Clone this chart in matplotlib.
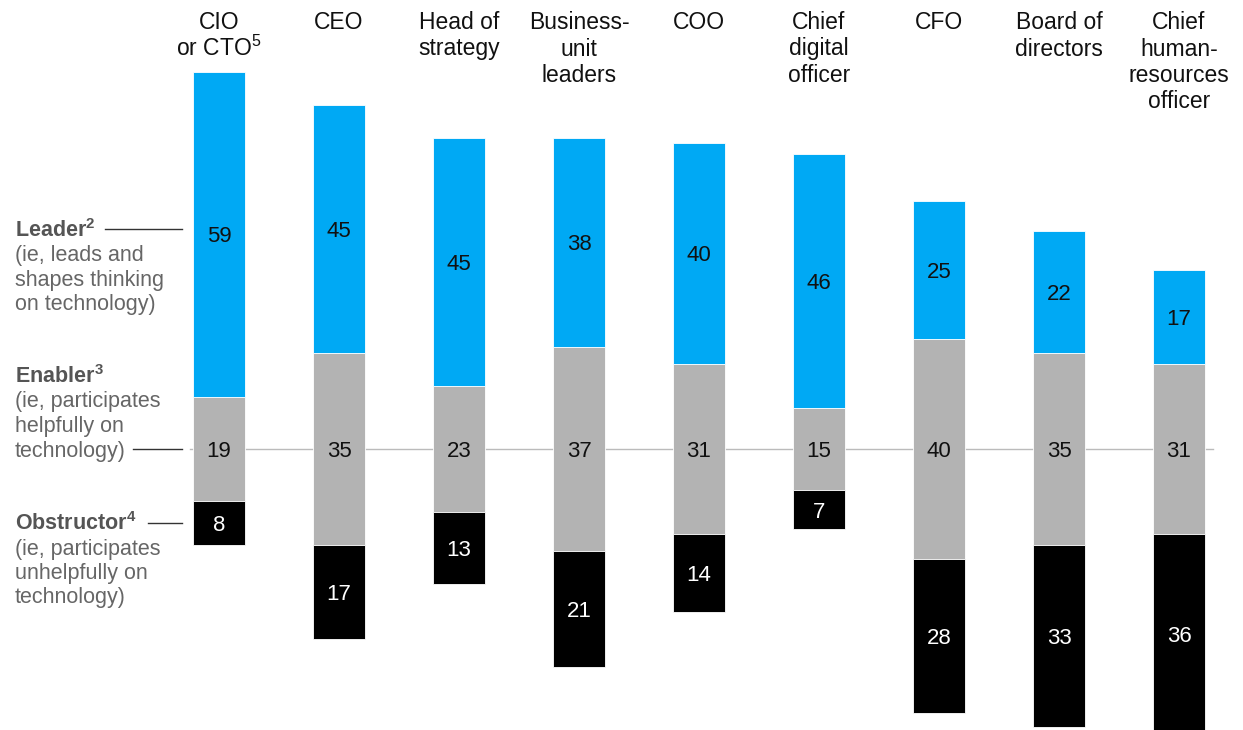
import matplotlib
matplotlib.use("Agg")
import matplotlib.pyplot as plt

plt.rcParams['font.family'] = ['Liberation Sans', 'DejaVu Sans']
plt.rcParams['mathtext.fontset'] = 'custom'
plt.rcParams['mathtext.rm'] = 'Liberation Sans'
plt.rcParams['mathtext.bf'] = 'Liberation Sans:bold'

# data (% of respondents)
roles = [["CIO", r"or CTO$^{\mathrm{5}}$"], ["CEO"], ["Head of", "strategy"],
         ["Business-", "unit", "leaders"], ["COO"], ["Chief", "digital", "officer"],
         ["CFO"], ["Board of", "directors"], ["Chief", "human-", "resources", "officer"]]
leader = [59, 45, 45, 38, 40, 46, 25, 22, 17]
enabler = [19, 35, 23, 37, 31, 15, 40, 35, 31]
obstructor = [8, 17, 13, 21, 14, 7, 28, 33, 36]

BLUE = "#00A9F4"
GREY = "#B3B3B3"
BLACK = "#000000"

W, H = 1243, 730
PX_PER_UNIT = 5.51
BASE_PX = 449
X0_PX, DX_PX = 219, 120

fig = plt.figure(figsize=(W / 100, H / 100), dpi=100)
ax = fig.add_axes([0, 0, 1, 1])
ax.set_xlim((0 - X0_PX) / DX_PX, (W - X0_PX) / DX_PX)
ax.set_ylim((BASE_PX - H) / PX_PER_UNIT, BASE_PX / PX_PER_UNIT)
ax.axis("off")


def py(px):
    # pixel row -> data y
    return (BASE_PX - px) / PX_PER_UNIT


# center line through the enabler segments
ax.plot([(190 - X0_PX) / DX_PX, (1213 - X0_PX) / DX_PX], [0, 0],
        color="#BBBBBB", lw=1, zorder=1)

x = list(range(len(roles)))
width = 52 / DX_PX
half = [e / 2 for e in enabler]
ax.bar(x, enabler, width, bottom=[-h for h in half], color=GREY,
       edgecolor="white", linewidth=0.6, zorder=2)
ax.bar(x, leader, width, bottom=half, color=BLUE,
       edgecolor="white", linewidth=0.6, zorder=2)
ax.bar(x, obstructor, width, bottom=[-h - o for h, o in zip(half, obstructor)],
       color=BLACK, edgecolor="white", linewidth=0.6, zorder=2)

for i in x:
    h = half[i]
    ax.text(i, h + leader[i] / 2, str(leader[i]), ha="center", va="center_baseline",
            fontsize=16, color="#111111", zorder=3)
    ax.text(i, 0, str(enabler[i]), ha="center", va="center_baseline",
            fontsize=16, color="#111111", zorder=3)
    ax.text(i, -h - obstructor[i] / 2, str(obstructor[i]), ha="center",
            va="center_baseline", fontsize=16, color="white", zorder=3)
    for j, line in enumerate(roles[i]):
        ax.text(i, py(29 + 26.5 * j), line, ha="center", va="baseline",
                fontsize=16.5, color="#111111")

# left-hand legend labels
legend = [
    (r"Leader$^{\mathbf{2}}$", 237, ["(ie, leads and", "shapes thinking", "on technology)"], 229, 105),
    (r"Enabler$^{\mathbf{3}}$", 383, ["(ie, participates", "helpfully on", "technology)"], 449, 133),
    (r"Obstructor$^{\mathbf{4}}$", 530, ["(ie, participates", "unhelpfully on", "technology)"], 523, 148),
]
for title, base, sub, line_y, line_x in legend:
    fig.text(15 / W, 1 - base / H, title, fontsize=15.5, fontweight="bold",
             color="#555555", va="baseline", ha="left")
    for k, s in enumerate(sub):
        fig.text(15 / W, 1 - (base + 24.5 * (k + 1)) / H, s, fontsize=15.5,
                 color="#666666", va="baseline", ha="left")
    fig.add_artist(plt.Line2D([line_x / W, 182 / W], [1 - line_y / H, 1 - line_y / H],
                              color="#333333", lw=1, transform=fig.transFigure))

fig.savefig("out.png", dpi=100)
